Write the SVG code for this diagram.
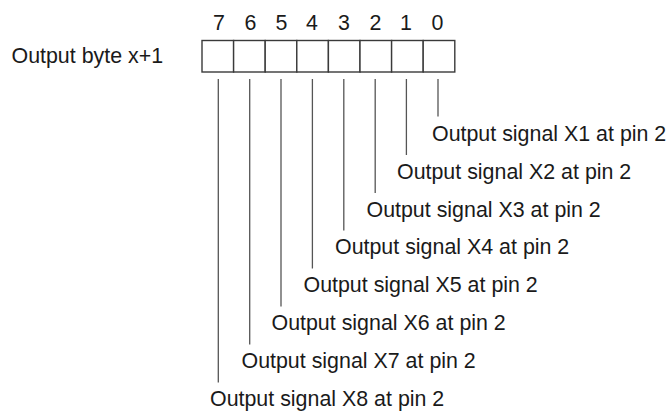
<svg xmlns="http://www.w3.org/2000/svg" width="669" height="414" viewBox="0 0 669 414">
<style>
text { font-family: "Liberation Sans", Arial, sans-serif; font-size: 21.4px; fill: #1a1a1a; }
.bit { text-anchor: middle; }
.cell { fill: #ffffff; stroke: #3a3a3a; stroke-width: 1.4; }
.conn line { stroke: #555555; stroke-width: 1.3; }
</style>
<rect width="669" height="414" fill="#ffffff"/>
<g id="byte-label"><text x="11.5" y="62.5">Output byte x+1</text></g>
<g id="bit-numbers">
<text class="bit" x="219" y="29.5">7</text>
<text class="bit" x="250.5" y="29.5">6</text>
<text class="bit" x="281.5" y="29.5">5</text>
<text class="bit" x="312" y="29.5">4</text>
<text class="bit" x="344" y="29.5">3</text>
<text class="bit" x="375.5" y="29.5">2</text>
<text class="bit" x="406" y="29.5">1</text>
<text class="bit" x="437.5" y="29.5">0</text>
</g>
<g id="byte">
<rect class="cell" x="202" y="40.5" width="31.6" height="31.5"/>
<rect class="cell" x="233.6" y="40.5" width="31.6" height="31.5"/>
<rect class="cell" x="265.2" y="40.5" width="31.6" height="31.5"/>
<rect class="cell" x="296.8" y="40.5" width="31.6" height="31.5"/>
<rect class="cell" x="328.4" y="40.5" width="31.6" height="31.5"/>
<rect class="cell" x="360" y="40.5" width="31.6" height="31.5"/>
<rect class="cell" x="391.6" y="40.5" width="31.6" height="31.5"/>
<rect class="cell" x="423.2" y="40.5" width="31.6" height="31.5"/>
</g>
<g id="connectors" class="conn">
<line x1="438" y1="79" x2="438" y2="116.5"/>
<line x1="406.4" y1="79" x2="406.4" y2="155"/>
<line x1="375.2" y1="79" x2="375.2" y2="193"/>
<line x1="343.8" y1="79" x2="343.8" y2="230.5"/>
<line x1="312.4" y1="79" x2="312.4" y2="268.5"/>
<line x1="281" y1="79" x2="281" y2="306.5"/>
<line x1="249.7" y1="79" x2="249.7" y2="344.5"/>
<line x1="218.3" y1="79" x2="218.3" y2="382.5"/>
</g>
<g id="sig-x1"><text x="432" y="140.5">Output signal X1 at pin 2</text></g>
<g id="sig-x2"><text x="397" y="178.5">Output signal X2 at pin 2</text></g>
<g id="sig-x3"><text x="366.5" y="216.5">Output signal X3 at pin 2</text></g>
<g id="sig-x4"><text x="335" y="254">Output signal X4 at pin 2</text></g>
<g id="sig-x5"><text x="303.5" y="292">Output signal X5 at pin 2</text></g>
<g id="sig-x6"><text x="271.5" y="330">Output signal X6 at pin 2</text></g>
<g id="sig-x7"><text x="241.5" y="368">Output signal X7 at pin 2</text></g>
<g id="sig-x8"><text x="210" y="406">Output signal X8 at pin 2</text></g>
</svg>
